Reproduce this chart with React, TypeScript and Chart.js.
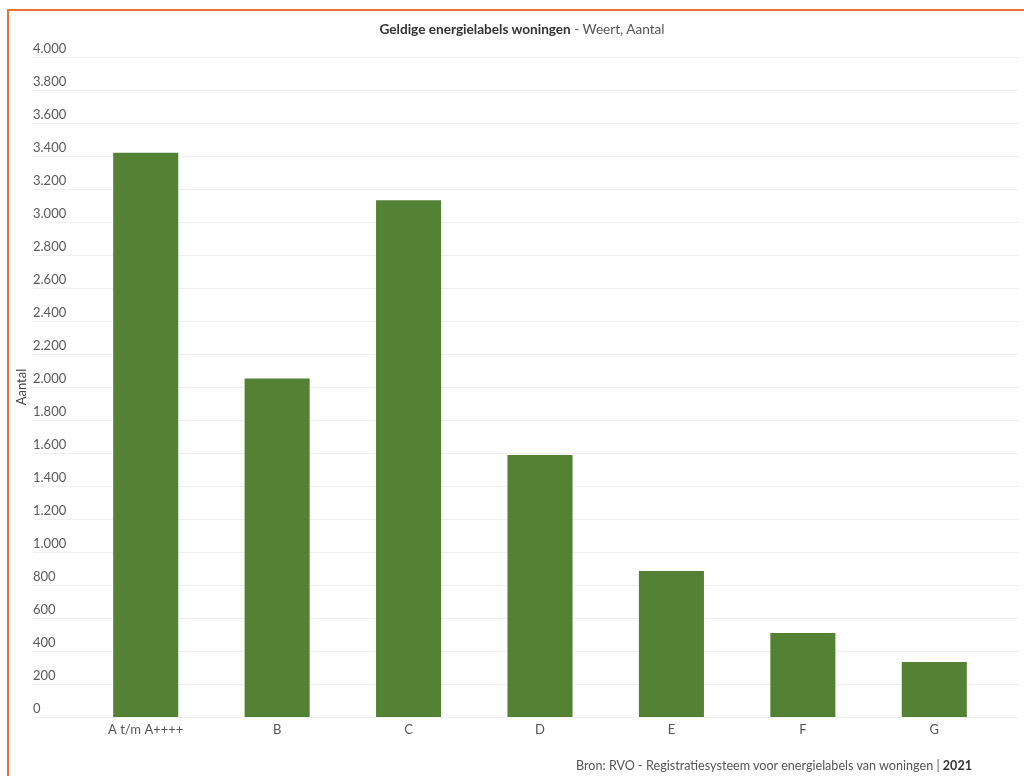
import React, { useEffect, useRef } from "react";
import { Chart, registerables } from "chart.js";

Chart.register(...registerables);

const categories = ["A t/m A++++", "B", "C", "D", "E", "F", "G"];
const values = [3420, 2052, 3132, 1588, 885, 509, 334];
const yMin = 0;
const yMax = 4000;
const yStep = 200;
const titleBold = "Geldige energielabels woningen";
const titleRest = " - Weert, Aantal";
const yTitle = "Aantal";
const sourceText = "Bron: RVO - Registratiesysteem voor energielabels van woningen | ";
const sourceYear = "2021";

const FONT = "Lato, 'Open Sans', sans-serif";

function fmt(v: number): string {
  return String(Math.round(v)).replace(/\B(?=(\d{3})+(?!\d))/g, ".");
}

const gridPlugin = {
  id: "customGrid",
  beforeDatasetsDraw(chart: any) {
    const y = chart.scales.y;
    const ctx = chart.ctx;
    ctx.save();
    ctx.strokeStyle = "#f0f0f0";
    ctx.lineWidth = 1;
    const x0 = y.left;
    const x1 = chart.width - 5;
    y.ticks.forEach((t: any) => {
      const py = Math.round(y.getPixelForValue(t.value)) + 0.5;
      ctx.beginPath();
      ctx.moveTo(x0, py);
      ctx.lineTo(x1, py);
      ctx.stroke();
    });
    ctx.translate(22, (chart.chartArea.top + chart.chartArea.bottom) / 2);
    ctx.rotate(-Math.PI / 2);
    ctx.textAlign = "center";
    ctx.textBaseline = "middle";
    ctx.font = "13px " + FONT;
    ctx.fillStyle = "#444444";
    ctx.fillText(yTitle, 0, 0);
    ctx.restore();
  },
};

export default function App() {
  const ref = useRef<HTMLCanvasElement | null>(null);

  useEffect(() => {
    if (!ref.current) return;
    const chart = new Chart(ref.current, {
      type: "bar",
      data: {
        labels: categories,
        datasets: [
          {
            data: values,
            backgroundColor: "#548235",
            borderWidth: 0,
            categoryPercentage: 1,
            barPercentage: 0.495,
          },
        ],
      },
      options: {
        animation: false,
        responsive: false,
        devicePixelRatio: 1,
        layout: { padding: { left: 33, top: 57, right: 24, bottom: 29 } },
        plugins: {
          legend: { display: false },
          tooltip: { enabled: false },
          title: { display: false },
        },
        scales: {
          x: {
            grid: { display: false, drawTicks: false },
            border: { display: false },
            ticks: {
              color: "#555555",
              font: { family: FONT, size: 13 },
              padding: 5,
              maxRotation: 0,
            },
            afterFit(scale: any) {
              scale.height = 30;
            },
          },
          y: {
            min: yMin,
            max: yMax,
            grid: { display: false, drawTicks: false },
            border: { display: false },
            ticks: {
              stepSize: yStep,
              color: "#5a5a5a",
              font: { family: FONT, size: 13 },
              crossAlign: "far",
              labelOffset: -8,
              callback: (v: any) => fmt(Number(v)),
            },
            afterFit(scale: any) {
              scale.width = 47;
            },
          },
        },
      },
      plugins: [gridPlugin],
    });
    return () => chart.destroy();
  }, []);

  return (
    <div
      style={{
        position: "fixed",
        left: 0,
        top: 0,
        width: 1024,
        height: 776,
        overflow: "hidden",
        background: "#ffffff",
        fontFamily: FONT,
      }}
    >
      <div
        style={{
          position: "absolute",
          left: 7,
          top: 9,
          width: 1200,
          height: 1000,
          borderLeft: "2px solid #e97132",
          borderTop: "2px solid #e97132",
        }}
      />
      <canvas
        ref={ref}
        width={1024}
        height={776}
        style={{ position: "absolute", left: 0, top: 0, width: 1024, height: 776 }}
      />
      <div
        style={{
          position: "absolute",
          left: 0,
          width: 1044,
          top: 20,
          textAlign: "center",
          fontSize: 13.6,
          lineHeight: "18px",
          color: "#555555",
          whiteSpace: "nowrap",
        }}
      >
        <span style={{ fontWeight: 700, color: "#333333" }}>{titleBold}</span>
        {titleRest}
      </div>
      <div
        style={{
          position: "absolute",
          right: 52,
          top: 757,
          fontSize: 12.6,
          lineHeight: "18px",
          color: "#555555",
          whiteSpace: "nowrap",
        }}
      >
        {sourceText}
        <span style={{ fontWeight: 700, color: "#333333" }}>{sourceYear}</span>
      </div>
    </div>
  );
}
